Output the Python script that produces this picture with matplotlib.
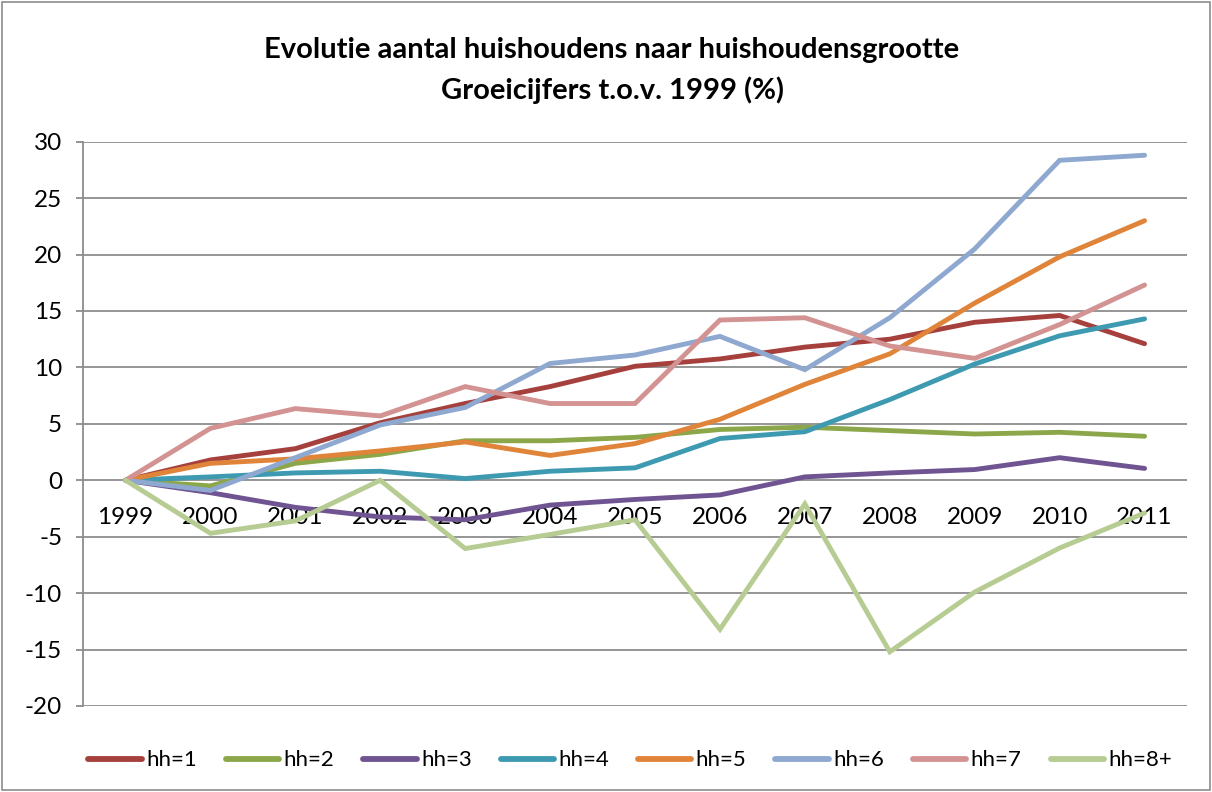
""" household growth chart """

import matplotlib
matplotlib.use("Agg")
from matplotlib import pyplot as plt
from matplotlib.patches import Rectangle

YEARS = ["1999", "2000", "2001", "2002", "2003", "2004", "2005",
         "2006", "2007", "2008", "2009", "2010", "2011"]

HH1 = [0, 1.8, 2.8, 5.1, 6.8, 8.3, 10.1, 10.75, 11.8, 12.5, 14.0, 14.6, 12.1]
HH2 = [0, -0.5, 1.5, 2.3, 3.5, 3.5, 3.8, 4.5, 4.7, 4.4, 4.1, 4.25, 3.9]
HH3 = [0, -1.1, -2.4, -3.25, -3.5, -2.2, -1.7, -1.3, 0.3, 0.65, 0.95, 2.0, 1.05]
HH4 = [0, 0.3, 0.65, 0.8, 0.15, 0.8, 1.1, 3.7, 4.3, 7.15, 10.3, 12.8, 14.3]
HH5 = [0, 1.5, 1.9, 2.6, 3.4, 2.2, 3.25, 5.4, 8.5, 11.2, 15.7, 19.8, 23.0]
HH6 = [0, -0.9, 2.0, 4.9, 6.45, 10.35, 11.1, 12.75, 9.8, 14.4, 20.5, 28.35, 28.8]
HH7 = [0, 4.6, 6.35, 5.7, 8.3, 6.8, 6.8, 14.2, 14.4, 11.9, 10.8, 13.8, 17.3]
HH8 = [0, -4.7, -3.6, 0, -6.05, -4.8, -3.5, -13.2, -2.1, -15.2, -9.9, -6.0, -2.9]

SERIES = [
    ("hh=1", HH1, "#A5403D"),
    ("hh=2", HH2, "#8BA74A"),
    ("hh=3", HH3, "#6F5491"),
    ("hh=4", HH4, "#3E9AB1"),
    ("hh=5", HH5, "#E0843A"),
    ("hh=6", HH6, "#8EA8D0"),
    ("hh=7", HH7, "#D39392"),
    ("hh=8+", HH8, "#B6CC92"),
]

plt.rcParams['font.family'] = ['Lato', 'DejaVu Sans']
plt.rcParams['axes.unicode_minus'] = False

fig = plt.figure(figsize=(12.12, 7.92), dpi=100)
ax = fig.add_axes([0.0685, 0.1086, 0.9109, 0.7125])

xs = list(range(len(YEARS)))
for name, vals, color in SERIES:
    ax.plot(xs, vals, color=color, linewidth=3.5, label=name,
            solid_joinstyle='miter', solid_capstyle='round')

ax.set_xlim(-0.5, len(YEARS) - 0.5)
ax.set_ylim(-20, 30)
ax.set_yticks(range(-20, 31, 5))
ax.yaxis.grid(True, color="#8c8c8c", linewidth=1.3)
ax.set_axisbelow(True)

ax.set_xticks(xs)
ax.set_xticklabels(YEARS)
ax.spines['bottom'].set_position(('data', 0))
ax.spines['bottom'].set_visible(False)
ax.spines['top'].set_visible(False)
ax.spines['right'].set_visible(False)
ax.spines['left'].set_color("#8c8c8c")
ax.spines['left'].set_linewidth(1.3)
ax.tick_params(axis='x', length=0, labelsize=17.5, pad=19)
ax.tick_params(axis='y', length=5, color="#8c8c8c", width=1.3, labelsize=17.5, pad=10)

fig.text(0.505, 0.937, "Evolutie aantal huishoudens naar huishoudensgrootte",
         ha='center', va='center', fontsize=21, fontweight='bold')
fig.text(0.505, 0.886, "Groeicijfers t.o.v. 1999 (%)",
         ha='center', va='center', fontsize=21, fontweight='bold')

leg = fig.legend(loc='center', bbox_to_anchor=(0.52, 0.04), ncol=8, frameon=False,
                 fontsize=16, handlelength=2.4, columnspacing=1.3, handletextpad=0.2)
for line in leg.get_lines():
    line.set_linewidth(4.2)

fig.patches.append(Rectangle((0.002, 0.002), 0.996, 0.996, transform=fig.transFigure,
                             fill=False, edgecolor="#8c8c8c", linewidth=1.2))

fig.savefig("out.png", dpi=100)
